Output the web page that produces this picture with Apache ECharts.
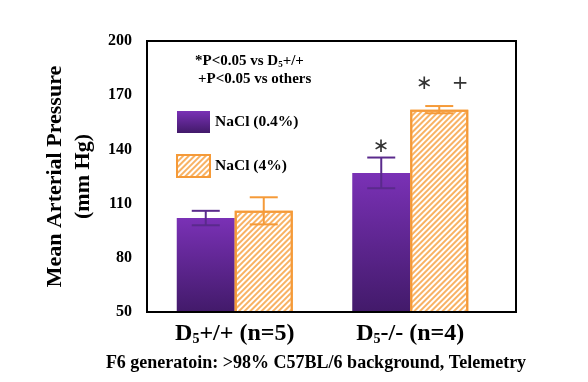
<!DOCTYPE html>
<html>
<head>
<meta charset="utf-8">
<script src="https://cdn.jsdelivr.net/npm/echarts@6/dist/echarts.min.js"></script>
<style>html,body{margin:0;padding:0;background:#fff;}#c{width:588px;height:382px;}</style>
</head>
<body>
<div id="c"></div>
<script>
// ---- data ----
const categories = ['D5+/+ (n=5)', 'D5-/- (n=4)'];
const seriesNames = ['NaCl (0.4%)', 'NaCl (4%)'];
const lowSalt = [102, 127];
const lowSaltErr = [4, 8.5];
const highSalt = [106, 162];
const highSaltErr = [7.5, 2];
const lowSaltSig = ['', '\u2217'];
const highSaltSig = ['', '\u2217   +'];
const yTicks = [50, 80, 110, 140, 170, 200];
const yTitle = 'Mean Arterial Pressure\n(mm Hg)';
const footnote = 'F6 generatoin: >98% C57BL/6 background, Telemetry';

// ---- styles ----
const SERIF = '"Liberation Serif","Times New Roman",serif';
const BAR_W = 58;
const purpleGrad = new echarts.graphic.LinearGradient(0, 0, 0, 1, [
  {offset: 0, color: '#7a31b6'}, {offset: 1, color: '#421a6a'}
]);
const orange = '#f59a38';
const hatch = {symbol: 'rect', symbolSize: 1, dashArrayX: [1, 0], dashArrayY: [1.6, 1.4], rotation: -Math.PI / 4, color: '#f8b264'};

function errSeries(name, means, errs, sigs, offset, color) {
  return {
    type: 'custom',
    name: name + ' err',
    z: 5,
    silent: true,
    data: means.map((m, i) => [i, m, errs[i]]),
    renderItem: function (params, api) {
      const i = api.value(0), m = api.value(1), e = api.value(2);
      const topP = api.coord([i, m + e]);
      const botP = api.coord([i, m - e]);
      const x = topP[0] + offset;
      const cap = 14;
      const st = {stroke: color, lineWidth: 2};
      const sig = sigs[params.dataIndex];
      const children = [
        {type: 'line', shape: {x1: x, y1: topP[1], x2: x, y2: botP[1]}, style: st},
        {type: 'line', shape: {x1: x - cap, y1: topP[1], x2: x + cap, y2: topP[1]}, style: st},
        {type: 'line', shape: {x1: x - cap, y1: botP[1], x2: x + cap, y2: botP[1]}, style: st}
      ];
      if (sig) {
        children.push({type: 'text', style: {
          text: sig, x: x + (sig.length > 1 ? 3 : 0), y: topP[1] - (sig.length > 1 ? 22 : 11),
          align: 'center', verticalAlign: 'middle',
          font: '20px "DejaVu Sans", sans-serif', fill: '#333'
        }});
      }
      return {type: 'group', children: children};
    }
  };
}

const chart = echarts.init(document.getElementById('c'), null, {renderer: 'canvas'});
chart.setOption({
  animation: false,
  backgroundColor: '#fff',
  grid: {left: 147, right: 90, top: 41, bottom: 70, containLabel: false},
  title: {
    text: footnote, left: 311, top: 349, textAlign: 'center',
    textStyle: {fontFamily: SERIF, fontWeight: 'bold', fontSize: 18, color: '#000'}
  },
  legend: {
    orient: 'vertical', left: 171, top: 106, itemWidth: 33, itemHeight: 22, itemGap: 21,
    icon: 'rect', data: seriesNames,
    textStyle: {fontFamily: SERIF, fontWeight: 'bold', fontSize: 15.5, color: '#000'}
  },
  xAxis: {
    type: 'category', data: categories,
    axisLine: {show: false}, axisTick: {show: false},
    axisLabel: {
      margin: 10,
      formatter: v => '{d|D}{s|5}{d|' + v.slice(2) + '}',
      rich: {
        d: {fontFamily: SERIF, fontWeight: 'bold', fontSize: 24, color: '#000'},
        s: {fontFamily: SERIF, fontWeight: 'bold', fontSize: 14, color: '#000', verticalAlign: 'bottom', padding: [10, 0, 0, 0]}
      }
    }
  },
  yAxis: {
    type: 'value', min: yTicks[0], max: yTicks[yTicks.length - 1], interval: 30,
    name: yTitle, nameLocation: 'middle', nameGap: 44, nameRotate: 90,
    nameTextStyle: {fontFamily: SERIF, fontWeight: 'bold', fontSize: 22, color: '#000', lineHeight: 28},
    axisLine: {show: false}, axisTick: {show: false}, splitLine: {show: false},
    axisLabel: {margin: 15, fontFamily: SERIF, fontWeight: 'bold', fontSize: 16, color: '#000'}
  },
  series: [
    {name: seriesNames[0], type: 'bar', barWidth: BAR_W, barGap: '0%', data: lowSalt,
     itemStyle: {color: purpleGrad}},
    {name: seriesNames[1], type: 'bar', barWidth: BAR_W, data: highSalt,
     itemStyle: {color: '#fff', borderColor: orange, borderWidth: 2, decal: hatch}},
    errSeries(seriesNames[0], lowSalt, lowSaltErr, lowSaltSig, -BAR_W / 2, '#5a2a8c'),
    errSeries(seriesNames[1], highSalt, highSaltErr, highSaltSig, BAR_W / 2, orange)
  ],
  graphic: [
    {type: 'rect', shape: {x: 147, y: 41, width: 369, height: 271}, style: {fill: 'none', stroke: '#000', lineWidth: 2}, z: 10},
    {type: 'text', left: 195, top: 54, style: {
      text: '{a|*P<0.05 vs D}{s|5}{a|+/+}',
      rich: {a: {fontFamily: SERIF, fontWeight: 'bold', fontSize: 15, fill: '#000'},
             s: {fontFamily: SERIF, fontWeight: 'bold', fontSize: 9, fill: '#000', verticalAlign: 'bottom', padding: [7, 0, 0, 0]}}
    }},
    {type: 'text', left: 198, top: 72, style: {
      text: '+P<0.05 vs others', font: 'bold 15px ' + SERIF, fill: '#000'
    }}
  ]
});
</script>
</body>
</html>
